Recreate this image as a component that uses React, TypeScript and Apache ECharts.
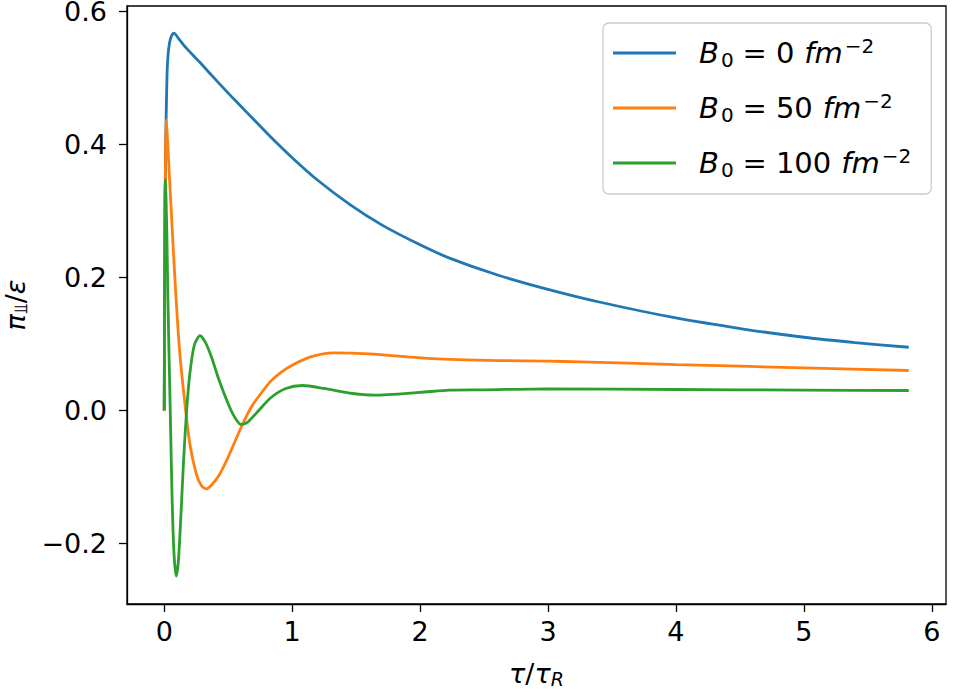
import React, { useEffect, useRef } from "react";
import * as echarts from "echarts";

// tau / tau_R samples and pi_perp / epsilon values
const tauB0 = [0, 0.004, 0.008, 0.012, 0.016, 0.022, 0.03, 0.041, 0.055, 0.075, 0.09, 0.12, 0.171, 0.28, 0.418, 0.55, 0.677, 0.833, 1.0, 1.2, 1.455, 1.7, 2.0, 2.23, 2.6, 3.0, 3.4, 4.0, 4.54, 5.0, 5.4, 5.82];
const piB0 = [0, 0.2, 0.34, 0.41, 0.45, 0.505, 0.535, 0.552, 0.562, 0.567, 0.565, 0.557, 0.545, 0.523, 0.494, 0.467, 0.442, 0.411, 0.38, 0.346, 0.309, 0.279, 0.249, 0.229, 0.204, 0.182, 0.163, 0.139, 0.122, 0.11, 0.102, 0.095];

const tauB50 = [0, 0.005, 0.01, 0.015, 0.022, 0.03, 0.05, 0.07, 0.093, 0.12, 0.158, 0.2, 0.25, 0.29, 0.327, 0.37, 0.43, 0.5, 0.6, 0.677, 0.75, 0.833, 0.91, 1.0, 1.144, 1.325, 1.6, 2.1, 2.62, 3.0, 3.25, 4.0, 5.0, 5.82];
const piB50 = [0, 0.2, 0.38, 0.437, 0.42, 0.39, 0.318, 0.245, 0.167, 0.09, 0.0165, -0.05, -0.095, -0.113, -0.118, -0.112, -0.097, -0.07, -0.026, 0.004, 0.024, 0.044, 0.057, 0.068, 0.0805, 0.0866, 0.085, 0.078, 0.075, 0.074, 0.073, 0.069, 0.064, 0.06];

const tauB100 = [0, 0.003, 0.006, 0.009, 0.014, 0.02, 0.029, 0.038, 0.047, 0.06, 0.075, 0.093, 0.11, 0.13, 0.15, 0.175, 0.2, 0.235, 0.28, 0.32, 0.37, 0.418, 0.5, 0.55, 0.6, 0.65, 0.72, 0.833, 0.95, 1.08, 1.25, 1.45, 1.64, 2.0, 2.23, 2.5, 3.0, 4.0, 5.0, 5.82];
const piB100 = [0, 0.2, 0.33, 0.347, 0.32, 0.27, 0.167, 0.08, 0.0, -0.12, -0.21, -0.249, -0.228, -0.16, -0.08, 0.0, 0.055, 0.098, 0.1126, 0.103, 0.08, 0.0515, 0.01, -0.01, -0.021, -0.018, -0.004, 0.019, 0.033, 0.0375, 0.033, 0.026, 0.023, 0.027, 0.0305, 0.031, 0.0325, 0.0315, 0.0305, 0.03];

const fieldValues = ["0", "50", "100"];
const seriesNames = ["B0 = 0 fm^-2", "B0 = 50 fm^-2", "B0 = 100 fm^-2"];
const seriesColors = ["#1f77b4", "#ff7f0e", "#2ca02c"];

const xTicks = [0, 1, 2, 3, 4, 5, 6];
const yTicks = [-0.2, 0, 0.2, 0.4, 0.6];

const FONT = "DejaVu Sans";
const FS = 27;
const LFS = 29;

function zip(xs: number[], ys: number[]) {
  return xs.map((x, i) => [x, ys[i]]);
}

export default function App() {
  const ref = useRef<HTMLDivElement>(null);

  useEffect(() => {
    if (!ref.current) return;
    const chart = echarts.init(ref.current, null, { renderer: "svg" });
    const richAxis = {
      t: { fontFamily: FONT, fontSize: FS, lineHeight: 30, color: "#000" },
      i: { fontFamily: FONT, fontSize: FS, fontStyle: "italic", lineHeight: 30, color: "#000" },
      sub: { fontFamily: FONT, fontSize: 19, lineHeight: 18, verticalAlign: "bottom", color: "#000" },
      isub: { fontFamily: FONT, fontSize: 19, fontStyle: "italic", lineHeight: 18, verticalAlign: "bottom", color: "#000" },
    };
    const richLegend = {
      t: { fontFamily: FONT, fontSize: LFS, lineHeight: 34, color: "#000" },
      eq: { fontFamily: FONT, fontSize: LFS, lineHeight: 34, color: "#000", padding: [0, 9, 0, 9] },
      v: { fontFamily: FONT, fontSize: LFS, lineHeight: 34, color: "#000", padding: [0, 10, 0, 0] },
      i: { fontFamily: FONT, fontSize: LFS, fontStyle: "italic", lineHeight: 34, color: "#000" },
      sub: { fontFamily: FONT, fontSize: 20, lineHeight: 20, verticalAlign: "bottom", color: "#000", padding: [0, 0, 0, 2] },
      sup: { fontFamily: FONT, fontSize: 20, lineHeight: 20, verticalAlign: "top", color: "#000", padding: [0, 0, 0, 2] },
    };
    const datasets = [zip(tauB0, piB0), zip(tauB50, piB50), zip(tauB100, piB100)];

    chart.setOption({
      animation: false,
      backgroundColor: "#fff",
      grid: {
        left: 127,
        right: 8,
        top: 6,
        bottom: 88,
        outerBoundsMode: "none",
        containLabel: false,
        show: true,
        borderColor: "#000",
        borderWidth: 1.3,
        backgroundColor: "transparent",
      },
      legend: {
        left: 603,
        top: 23,
        orient: "vertical",
        data: seriesNames,
        icon: "rect",
        itemWidth: 63,
        itemHeight: 3,
        itemGap: 21,
        padding: [13, 20, 14, 10],
        backgroundColor: "#fff",
        borderColor: "#cccccc",
        borderWidth: 1.3,
        borderRadius: 6,
        textStyle: {
          fontFamily: FONT,
          fontSize: LFS,
          color: "#000",
          padding: [0, 0, 0, 18],
          rich: richLegend,
        },
        formatter: (name: string) => {
          const idx = seriesNames.indexOf(name);
          return `{i|B}{sub|0}{eq|=}{v|${fieldValues[idx]}}{i|fm}{sup|−2}`;
        },
      },
      xAxis: {
        type: "value",
        min: -0.291,
        max: 6.111,
        splitLine: { show: false },
        axisLine: { show: true, onZero: false, lineStyle: { color: "#000", width: 1.3 } },
        axisTick: { show: true, length: 8, customValues: xTicks, lineStyle: { color: "#000", width: 1.3 } },
        axisLabel: {
          customValues: xTicks,
          margin: 16,
          fontFamily: FONT,
          fontSize: FS,
          lineHeight: 22,
          color: "#000",
          formatter: (v: number) => String(v),
        },
        name: "{i|τ}{t|/}{i|τ}{isub|R}",
        nameLocation: "middle",
        nameGap: 54,
        nameTextStyle: { fontFamily: FONT, fontSize: FS, color: "#000", rich: richAxis },
      },
      yAxis: {
        type: "value",
        min: -0.291,
        max: 0.608,
        splitLine: { show: false },
        axisLine: { show: true, onZero: false, lineStyle: { color: "#000", width: 1.3 } },
        axisTick: { show: true, length: 8, customValues: yTicks, lineStyle: { color: "#000", width: 1.3 } },
        axisLabel: {
          customValues: yTicks,
          margin: 20,
          fontFamily: FONT,
          fontSize: FS,
          lineHeight: 20,
          color: "#000",
          formatter: (v: number) => v.toFixed(1).replace("-", "−"),
        },
        name: "{i|π}{sub|⫫}{t|/}{i|ε}",
        nameLocation: "middle",
        nameRotate: 90,
        nameGap: 90,
        nameTextStyle: { fontFamily: FONT, fontSize: FS, color: "#000", rich: richAxis },
      },
      series: seriesNames.map((name, k) => ({
        name,
        type: "line",
        data: datasets[k],
        showSymbol: false,
        smooth: 0.25,
        clip: false,
        lineStyle: { color: seriesColors[k], width: 2.8 },
        itemStyle: { color: seriesColors[k] },
        z: 2 + k,
      })),
    });

    return () => chart.dispose();
  }, []);

  return (
    <div
      ref={ref}
      style={{ position: "fixed", left: 0, top: 0, width: 954, height: 692 }}
    />
  );
}
